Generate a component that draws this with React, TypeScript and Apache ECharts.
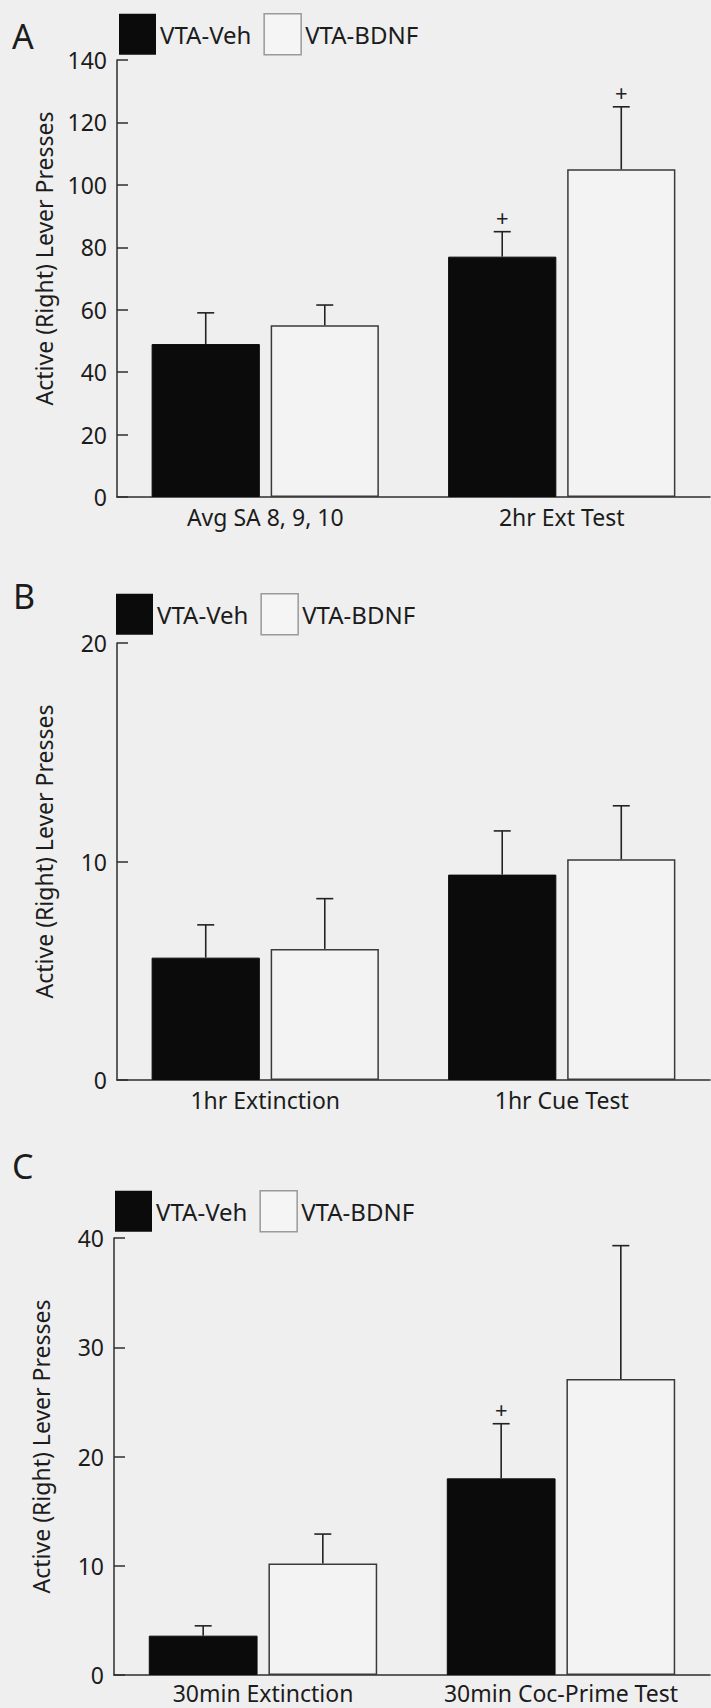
import React, { useEffect, useRef } from "react";
import * as echarts from "echarts";

// ---------- DATA ----------
const seriesNames = ["VTA-Veh", "VTA-BDNF"];
const panelLetters = ["A", "B", "C"];
const yAxisTitle = "Active (Right) Lever Presses";

const catsA = ["Avg SA 8, 9, 10", "2hr Ext Test"];
const vehA = [49, 77];
const vehErrA = [10, 8];
const bdnfA = [55, 105];
const bdnfErrA = [6.5, 20];
const vehSigA = [false, true];
const bdnfSigA = [false, true];

const catsB = ["1hr Extinction", "1hr Cue Test"];
const vehB = [5.6, 9.4];
const vehErrB = [1.5, 2.0];
const bdnfB = [6.0, 10.1];
const bdnfErrB = [2.3, 2.45];
const vehSigB = [false, false];
const bdnfSigB = [false, false];

const catsC = ["30min Extinction", "30min Coc-Prime Test"];
const vehC = [3.6, 18.0];
const vehErrC = [0.9, 5.0];
const bdnfC = [10.2, 27.1];
const bdnfErrC = [2.7, 12.2];
const vehSigC = [false, true];
const bdnfSigC = [false, false];

const yMaxes = [140, 20, 40];
const yIntervals = [20, 10, 10];

// ---------- STYLE ----------
const FONT = "Noto Sans";
const TXT = "#1c1c1c";
const AX = "#2e2e2e";
const BG = "#efefef";
const BAR_FRAC = 0.365;
const GAP_FRAC = 0.1;

const panels = [
  { cats: catsA, veh: vehA, vehErr: vehErrA, bdnf: bdnfA, bdnfErr: bdnfErrA, vehSig: vehSigA, bdnfSig: bdnfSigA },
  { cats: catsB, veh: vehB, vehErr: vehErrB, bdnf: bdnfB, bdnfErr: bdnfErrB, vehSig: vehSigB, bdnfSig: bdnfSigB },
  { cats: catsC, veh: vehC, vehErr: vehErrC, bdnf: bdnfC, bdnfErr: bdnfErrC, vehSig: vehSigC, bdnfSig: bdnfSigC },
];

const grids = [
  { left: 117, right: 1, top: 60, height: 437 },
  { left: 117, right: 1, top: 643, height: 437 },
  { left: 114, right: 1, top: 1238, height: 437 },
];
const legendPos = [
  { left: 119, top: 13 },
  { left: 116, top: 593 },
  { left: 115, top: 1190 },
];
const letterPos = [
  { x: 12, y: 41 },
  { x: 13, y: 601 },
  { x: 12, y: 1171 },
];
const namePad = [40, 20, 20];
const xLabelMargin = [8, 8, 6];

function errRenderer(side: number) {
  return (params: any, api: any) => {
    const cat = api.value(0);
    const mean = api.value(1);
    const top = api.value(2);
    const sig = api.value(3);
    const band = api.size([1, 0])[0];
    const barW = band * BAR_FRAC;
    const off = (side * (barW * (1 + GAP_FRAC))) / 2;
    const p0 = api.coord([cat, mean]);
    const p1 = api.coord([cat, top]);
    const x = p0[0] + off;
    const st = { stroke: "#222", lineWidth: 1.6 };
    const children: any[] = [
      { type: "line", shape: { x1: x, y1: p0[1], x2: x, y2: p1[1] }, style: st },
      { type: "line", shape: { x1: x - 8.5, y1: p1[1], x2: x + 8.5, y2: p1[1] }, style: st },
    ];
    if (sig) {
      children.push({
        type: "text",
        x: x,
        y: p1[1] - 15,
        style: {
          text: "+",
          fill: "#222",
          font: `22px "${FONT}"`,
          textAlign: "center",
          textVerticalAlign: "middle",
        },
      });
    }
    return { type: "group", children };
  };
}

function buildOption() {
  const xAxis: any[] = [];
  const yAxis: any[] = [];
  const series: any[] = [];
  const legend: any[] = [];
  const graphic: any[] = [];

  panels.forEach((p, i) => {
    xAxis.push({
      type: "category",
      gridIndex: i,
      data: p.cats,
      boundaryGap: true,
      axisLine: { lineStyle: { color: AX, width: 1.5 } },
      axisTick: { inside: true, length: 10, lineStyle: { color: AX, width: 1.5 } },
      axisLabel: { interval: 0, fontFamily: FONT, fontSize: 23, color: TXT, margin: xLabelMargin[i] },
      splitLine: { show: false },
    });
    yAxis.push({
      type: "value",
      gridIndex: i,
      min: 0,
      max: yMaxes[i],
      interval: yIntervals[i],
      name: yAxisTitle,
      nameLocation: "middle",
      nameRotate: 90,
      nameGap: 62,
      nameTextStyle: { fontFamily: FONT, fontSize: 23, color: TXT, padding: [0, 0, 0, namePad[i]] },
      axisLine: { show: true, lineStyle: { color: AX, width: 1.5 } },
      axisTick: { show: true, inside: true, length: 11, lineStyle: { color: AX, width: 1.5 } },
      axisLabel: { fontFamily: FONT, fontSize: 23, color: TXT, margin: 10 },
      splitLine: { show: false },
    });
    series.push({
      name: seriesNames[0],
      type: "bar",
      xAxisIndex: i,
      yAxisIndex: i,
      data: p.veh,
      barWidth: `${BAR_FRAC * 100}%`,
      barGap: `${GAP_FRAC * 100}%`,
      itemStyle: { color: "#0b0b0b", borderColor: "#0b0b0b", borderWidth: 1 },
    });
    series.push({
      name: seriesNames[1],
      type: "bar",
      xAxisIndex: i,
      yAxisIndex: i,
      data: p.bdnf,
      barWidth: `${BAR_FRAC * 100}%`,
      barGap: `${GAP_FRAC * 100}%`,
      itemStyle: { color: "#f3f3f3", borderColor: "#3a3a3a", borderWidth: 1.5 },
    });
    series.push({
      type: "custom",
      xAxisIndex: i,
      yAxisIndex: i,
      z: 5,
      renderItem: errRenderer(-1),
      data: p.veh.map((v, k) => [k, v, v + p.vehErr[k], p.vehSig[k] ? 1 : 0]),
    });
    series.push({
      type: "custom",
      xAxisIndex: i,
      yAxisIndex: i,
      z: 5,
      renderItem: errRenderer(1),
      data: p.bdnf.map((v, k) => [k, v, v + p.bdnfErr[k], p.bdnfSig[k] ? 1 : 0]),
    });
    legend.push({
      left: legendPos[i].left,
      top: legendPos[i].top,
      orient: "horizontal",
      padding: 0,
      itemWidth: 37,
      itemHeight: 41,
      itemGap: 12,
      selectedMode: false,
      icon: "rect",
      textStyle: { fontFamily: FONT, fontSize: 24, color: TXT, padding: [0, 0, 0, -1] },
      data: [
        { name: seriesNames[0], itemStyle: { color: "#0b0b0b", borderWidth: 0 } },
        { name: seriesNames[1], itemStyle: { color: "#f5f5f5", borderColor: "#9a9a9a", borderWidth: 1.5 } },
      ],
    });
    graphic.push({
      type: "text",
      left: letterPos[i].x,
      top: letterPos[i].y - 22,
      style: { text: panelLetters[i], fill: TXT, font: `34px "${FONT}"` },
    });
  });

  return {
    animation: false,
    backgroundColor: BG,
    grid: grids,
    xAxis,
    yAxis,
    series,
    legend,
    graphic,
  };
}

export default function App() {
  const ref = useRef<HTMLDivElement>(null);
  useEffect(() => {
    document.body.style.margin = "0";
    document.body.style.background = BG;
    const chart = echarts.init(ref.current!, undefined, { renderer: "svg" });
    chart.setOption(buildOption() as any);
    return () => chart.dispose();
  }, []);
  return (
    <div
      ref={ref}
      style={{ position: "absolute", left: 0, top: 0, width: 711, height: 1708 }}
    />
  );
}
